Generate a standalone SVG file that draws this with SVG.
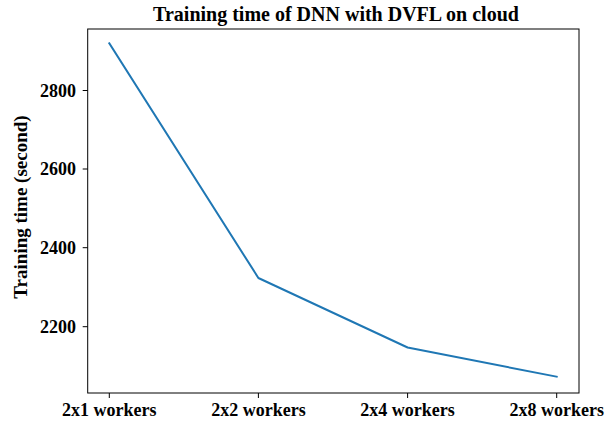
<svg xmlns="http://www.w3.org/2000/svg" width="605" height="424" viewBox="0 0 605 424">
<style>
text{font-family:"Liberation Serif","Times New Roman",serif;font-weight:bold;fill:#000}
.t{font-size:18px}
.tick{stroke:#000;stroke-width:1}
</style>
<rect width="605" height="424" fill="#fff"/>
<text x="336" y="21" text-anchor="middle" font-size="20">Training time of DNN with DVFL on cloud</text>
<g id="axes">
<rect x="87.7" y="29" width="491.3" height="364" fill="none" stroke="#000" stroke-width="1"/>
<path class="tick" d="M109.3 393v5M258.4 393v5M407.6 393v5M556.7 393v5M82.7 90.5h5M82.7 169h5M82.7 247.7h5M82.7 326.7h5"/>
</g>
<g id="xlabels" class="t" text-anchor="middle">
<text x="109.3" y="416" class="t">2x1 workers</text>
<text x="258.4" y="416" class="t">2x2 workers</text>
<text x="407.6" y="416" class="t">2x4 workers</text>
<text x="556.7" y="416" class="t">2x8 workers</text>
</g>
<g id="ylabels" text-anchor="end">
<text x="76" y="96.5" class="t">2800</text>
<text x="76" y="175" class="t">2600</text>
<text x="76" y="253.7" class="t">2400</text>
<text x="76" y="332.7" class="t">2200</text>
</g>
<text transform="translate(27 207) rotate(-90)" text-anchor="middle" font-size="19">Training time (second)</text>
<g id="connectors">
<polyline points="109.3,43.3 258.4,278 407.6,347.5 556.7,376.7" fill="none" stroke="#1f77b4" stroke-width="2" stroke-linejoin="round" stroke-linecap="square"/>
</g>
</svg>
